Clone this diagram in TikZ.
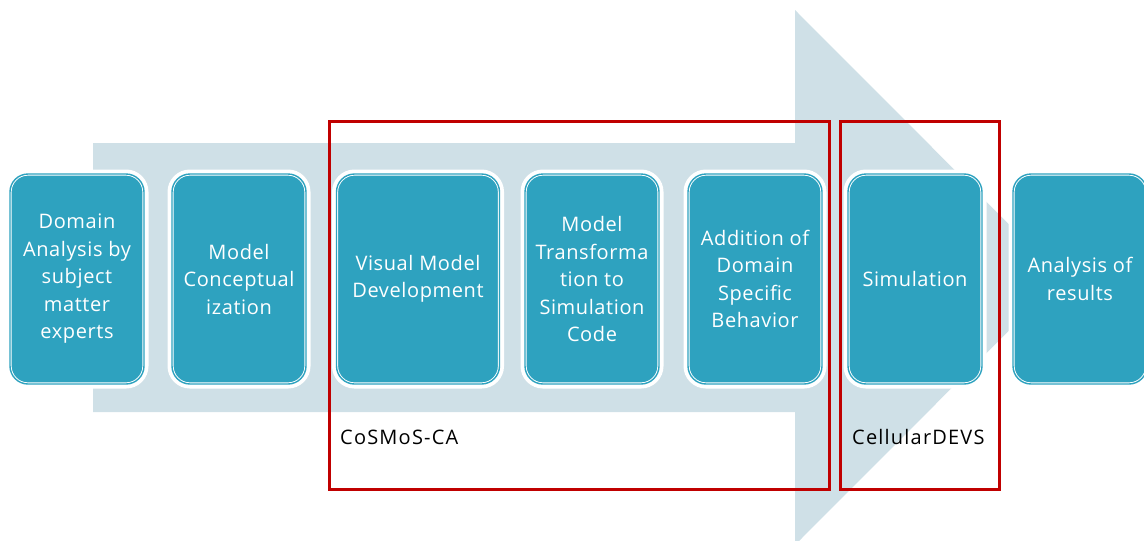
\documentclass[tikz,border=0pt]{standalone}
\usepackage{fontspec}
\setmainfont{Open Sans}
\newfontfamily\stagefont[LetterSpace=3]{Open Sans}
\newfontfamily\tagfont[LetterSpace=6]{Open Sans}
\definecolor{stageteal}{HTML}{2EA2BF}
\definecolor{flowblue}{HTML}{CFE0E7}
\definecolor{framered}{HTML}{C00000}

\begin{document}
\begin{tikzpicture}[
  x=1pt, y=-1pt,
  stage/.style={rectangle, rounded corners=18pt, fill=stageteal,
    preaction={draw=white, line width=9pt},
    draw=white, line width=0.9pt, double=stageteal, double distance=1.4pt,
    minimum width=134pt, minimum height=210pt, inner sep=0pt,
    text=white, align=center, font=\stagefont\fontsize{20}{27.5}\selectfont},
  frame/.style={draw=framered, line width=3pt},
  tag/.style={anchor=west, inner sep=0pt, font=\tagfont\fontsize{20}{24}\selectfont}
]
\useasboundingbox (0,0) rectangle (1144,541);
%% ─── Background arrow ───────────────────────────────────────────────────────
\fill[flowblue] (93,143) -- (795,143) -- (795,10) -- (1062,277.5)
  -- (795,545) -- (795,412) -- (93,412) -- cycle;
%% ─── Process stages ─────────────────────────────────────────────────────────
\node[stage] (domain)   at (77,279)  {Domain\\Analysis by\\subject\\matter\\experts};
\node[stage] (concept)  at (239,279) {Model\\Conceptual\\ization};
\node[stage, minimum width=163pt] (visual) at (418,279) {Visual Model\\Development};
\node[stage] (transf)   at (592,279) {Model\\Transforma\\tion to\\Simulation\\Code};
\node[stage] (behav)    at (755,279) {Addition of\\Domain\\Specific\\Behavior};
\node[stage] (simul)    at (915,279) {Simulation};
\node[stage] (results)  at (1080,279) {Analysis of\\results};
%% ─── Tool frames ────────────────────────────────────────────────────────────
\draw[frame] (329,121) rectangle (829,489);
\draw[frame] (840,121) rectangle (999,489);
\node[tag] (cosmos)   at (340,437) {CoSMoS-CA};
\node[tag] (celldevs) at (852,437) {CellularDEVS};
\end{tikzpicture}
\end{document}
